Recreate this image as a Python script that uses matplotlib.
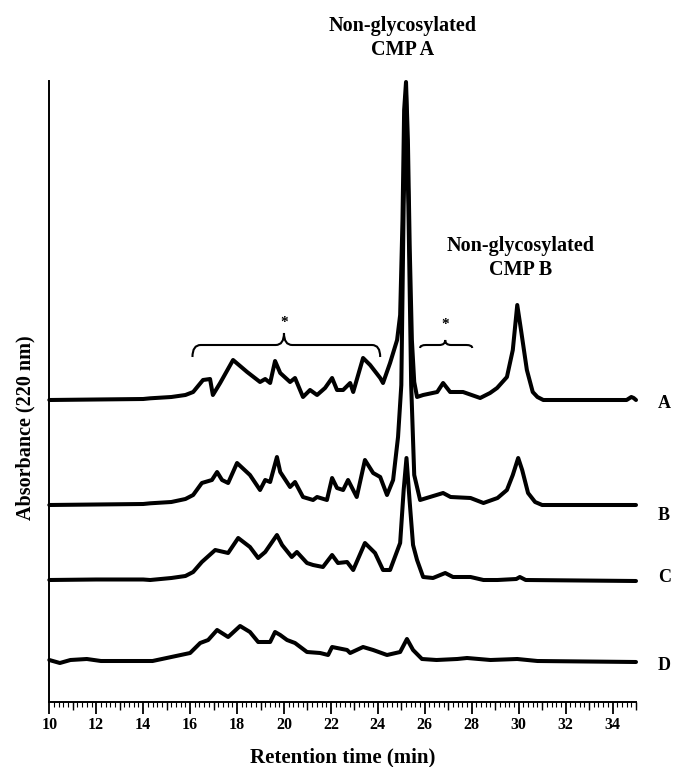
import matplotlib
matplotlib.use("Agg")
import matplotlib.pyplot as plt
from matplotlib.path import Path
from matplotlib.patches import PathPatch
from matplotlib.ticker import MultipleLocator

# ---------------- data (retention time, min ; absorbance above each trace baseline) ----
time_A = [10, 12, 14, 14.3, 15.2, 15.8, 16.13, 16.55, 16.85, 16.97, 17.28, 17.83, 18.43, 18.98,
          19.2, 19.41, 19.62, 19.84, 20.26, 20.47, 20.81, 21.11, 21.41, 21.75, 22.05, 22.26,
          22.52, 22.82, 22.95, 23.37, 23.67, 24.1, 24.22, 24.52, 24.82, 24.95, 25.05, 25.12,
          25.2, 25.28, 25.36, 25.45, 25.55, 25.67, 25.93, 26.53, 26.78, 27.08, 27.63, 28.36,
          28.78, 29.08, 29.5, 29.75, 29.94, 30.1, 30.35, 30.6, 30.8, 31.05, 34.6, 34.8, 34.9, 35]
abs_A = [0, 0.5, 1, 1.7, 3, 5, 8, 20, 21, 5, 17, 40, 28, 18,
         21, 17, 39, 27, 18, 22, 3, 10, 5, 12, 22, 10,
         10, 17, 8, 42, 35, 22, 17, 37, 60, 85, 180, 290,
         318, 260, 150, 60, 18, 3, 5, 8, 17, 8, 8, 2,
         7, 12, 23, 50, 95, 70, 30, 8, 3, 0, 0, 3, 2, 0]

time_B = [10, 12, 14, 14.3, 15.2, 15.8, 16.13, 16.5, 16.93, 17.15, 17.36, 17.62, 18.0, 18.55,
          18.98, 19.2, 19.41, 19.7, 19.84, 20.26, 20.47, 20.81, 21.24, 21.41, 21.83, 22.05,
          22.26, 22.52, 22.73, 23.1, 23.45, 23.8, 24.1, 24.39, 24.65, 24.86, 25.0, 25.1,
          25.2, 25.3, 25.42, 25.55, 25.8, 26.78, 27.1, 27.95, 28.5, 29.1, 29.5, 29.75,
          29.98, 30.15, 30.4, 30.7, 31.0, 35]
abs_B = [0, 0.5, 1, 1.7, 3, 6, 10, 22, 25, 33, 25, 22, 42, 30,
         15, 25, 23, 48, 33, 18, 23, 8, 5, 8, 5, 27,
         17, 15, 25, 8, 45, 32, 28, 10, 25, 68, 120, 300,
         410, 300, 120, 30, 5, 12, 8, 7, 2, 7, 15, 30,
         47, 35, 12, 3, 0, 0]

time_C = [10, 12, 14, 14.3, 15.2, 15.8, 16.13, 16.5, 17.07, 17.62, 18.05, 18.55, 18.9, 19.2,
          19.7, 19.92, 20.33, 20.55, 20.98, 21.24, 21.66, 22.05, 22.3, 22.69, 22.95, 23.45,
          23.88, 24.22, 24.52, 24.95, 25.1, 25.22, 25.35, 25.5, 25.67, 25.93, 26.35, 26.87,
          27.2, 27.95, 28.5, 29.1, 29.9, 30.05, 30.3, 35]
abs_C = [0, 0.5, 0.5, 0, 2, 4, 8, 18, 30, 27, 42, 33, 22, 28,
         45, 35, 23, 28, 17, 15, 13, 25, 17, 18, 10, 37,
         27, 10, 10, 37, 90, 122, 80, 35, 20, 3, 2, 7,
         3, 3, 0, 0, 1, 3, 0, -1]

time_D = [10, 10.45, 10.9, 11.6, 12.2, 13.6, 14.4, 15.0, 16.0, 16.43, 16.77, 17.15, 17.62, 18.13,
          18.55, 18.9, 19.41, 19.62, 19.84, 20.13, 20.47, 20.98, 21.54, 21.88, 22.05, 22.69,
          22.82, 23.37, 23.8, 24.39, 24.95, 25.24, 25.5, 25.88, 26.5, 27.38, 27.8, 28.8,
          29.94, 30.8, 35]
abs_D = [0, -3, 0, 1, -1, -1, -1, 2, 7, 17, 20, 30, 23, 34,
         28, 18, 18, 28, 25, 20, 17, 8, 7, 5, 13, 10,
         7, 13, 10, 5, 8, 21, 10, 1, 0, 1, 2, 0,
         1, -1, -2]

trace_names = ["A", "B", "C", "D"]
x_ticks = list(range(10, 35, 2))
x_mid_ticks = list(range(11, 36, 2))

# ---------------- layout ----------------
W, H = 674, 767
fig = plt.figure(figsize=(W / 100, H / 100), dpi=100)
ax_l, ax_r, ax_t, ax_b = 49.3, 636, 81, 702
ax = fig.add_axes([ax_l / W, 1 - ax_b / H, (ax_r - ax_l) / W, (ax_b - ax_t) / H])
ax.set_xlim(10, 35)
ax.set_ylim(0, ax_b - ax_t)

serif = ["Liberation Serif", "DejaVu Serif"]
baselines = [302, 197, 122, 42]
series = [(time_A, abs_A), (time_B, abs_B), (time_C, abs_C), (time_D, abs_D)]
for (t, a), b in zip(series, baselines):
    ax.plot(t, [v + b for v in a], color="black", lw=2.9, solid_joinstyle="round",
            solid_capstyle="round", clip_on=False)

for s in ["top", "right"]:
    ax.spines[s].set_visible(False)
for s in ["left", "bottom"]:
    ax.spines[s].set_linewidth(1.4)
ax.set_yticks([])
ax.set_xticks(x_ticks)
ax.xaxis.set_minor_locator(MultipleLocator(0.2))
ax.tick_params(axis="x", which="major", direction="out", length=8.5, width=1.3, pad=2)
ax.tick_params(axis="x", which="minor", direction="out", length=3.5, width=0.8)
for lab in ax.get_xticklabels():
    lab.set_fontfamily(serif)
    lab.set_fontweight("bold")
    lab.set_fontsize(11.5)

sec = ax.secondary_xaxis("bottom")
sec.set_xticks(x_mid_ticks)
sec.set_xticklabels([])
sec.tick_params(axis="x", direction="out", length=6, width=1.0)
sec.spines["bottom"].set_visible(False)

ax.set_xlabel("Retention time (min)", fontfamily=serif, fontweight="bold", fontsize=15,
              labelpad=11)
fig.text(25 / W, 1 - 428 / H, "Absorbance (220 nm)", rotation=90, ha="center", va="center",
         fontfamily=serif, fontweight="bold", fontsize=14.5)

# trace labels
label_y = [403, 515, 578, 666]
for name, ly in zip(trace_names, label_y):
    fig.text(658 / W, 1 - ly / H, name, ha="left", va="center", fontfamily=serif,
             fontweight="bold", fontsize=13)

# peak annotations
fig.text(403 / W, 1 - 38 / H, "Non-glycosylated\nCMP A", ha="center", va="center",
         multialignment="center", fontfamily=serif, fontweight="bold", fontsize=14.5,
         linespacing=1.3)
fig.text(521 / W, 1 - 258 / H, "Non-glycosylated\nCMP B", ha="center", va="center",
         multialignment="center", fontfamily=serif, fontweight="bold", fontsize=14.5,
         linespacing=1.3)


def brace(x0, x1, xm, y_end, y_mid, y_tip, r):
    verts = [(x0, y_end), (x0, y_mid), (x0 + r, y_mid),
             (xm - r, y_mid), (xm, y_mid), (xm, y_tip),
             (xm, y_mid), (xm + r, y_mid),
             (x1 - r, y_mid), (x1, y_mid), (x1, y_end)]
    codes = [Path.MOVETO, Path.CURVE3, Path.CURVE3,
             Path.LINETO, Path.CURVE3, Path.CURVE3,
             Path.CURVE3, Path.CURVE3,
             Path.LINETO, Path.CURVE3, Path.CURVE3]
    ax.add_patch(PathPatch(Path(verts, codes), fill=False, lw=1.5, color="black",
                           clip_on=False))


brace(16.1, 24.1, 20.0, 702 - 357, 702 - 345, 702 - 333, 0.35)
brace(25.8, 28.02, 26.87, 702 - 348, 702 - 345, 702 - 340, 0.25)
ax.text(20.0, 702 - 322, "*", ha="center", va="center", fontsize=11, fontweight="bold",
        fontfamily=serif)
ax.text(26.87, 702 - 324, "*", ha="center", va="center", fontsize=11, fontweight="bold",
        fontfamily=serif)

fig.savefig("out.png", dpi=100)
